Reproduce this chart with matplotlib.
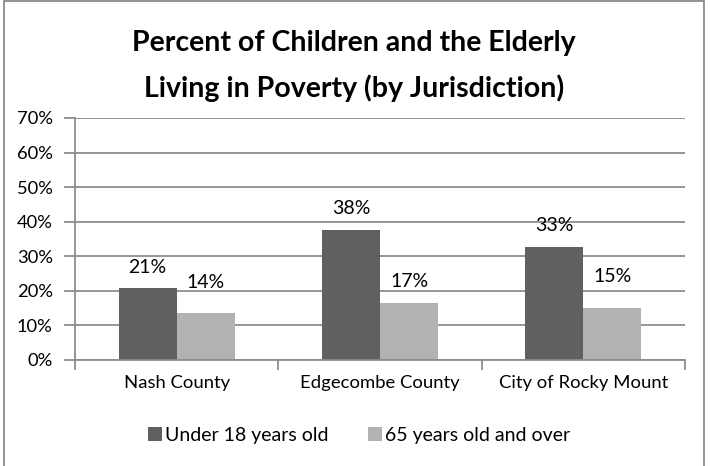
import numpy as np
import matplotlib
matplotlib.use("Agg")
import matplotlib.pyplot as plt
from matplotlib.patches import Rectangle

plt.rcParams['font.family'] = ['Lato', 'DejaVu Sans']

jurisdictions = ["Nash County", "Edgecombe County", "City of Rocky Mount"]
under18 = [20.7, 37.6, 32.7]
over65 = [13.7, 16.6, 15.1]
series_names = ["Under 18 years old", "65 years old and over"]
yticks = [0, 10, 20, 30, 40, 50, 60, 70]

dark = "#606060"
light = "#b2b2b2"
grid_c = "#8c8c8c"

fig = plt.figure(figsize=(7.1, 4.66), dpi=100)

# chart frame
fig.patches.append(Rectangle((4 / 710, -0.05), 700 / 710, 1.047,
                             transform=fig.transFigure, fill=False,
                             edgecolor="#808080", linewidth=1.2))

ax = fig.add_axes([75 / 710, 1 - 360 / 466, 610 / 710, 242 / 466])

x = np.arange(len(jurisdictions))
w = 0.286
b1 = ax.bar(x - w / 2, under18, w, color=dark)
b2 = ax.bar(x + w / 2, over65, w, color=light)

# value labels (Excel nudges some of them up to clear the neighbour)
lift1 = [21, 22, 21]
lift2 = [30, 21, 31]
for xi, v, d in zip(x, under18, lift1):
    ax.annotate(f"{v:.0f}%", (xi - w / 2, v), xytext=(0, d),
                textcoords="offset pixels", ha="center", va="center",
                fontsize=14)
for xi, v, d in zip(x, over65, lift2):
    ax.annotate(f"{v:.0f}%", (xi + w / 2, v), xytext=(0, d),
                textcoords="offset pixels", ha="center", va="center",
                fontsize=14)

ax.set_xlim(-0.5, 2.5)
ax.set_ylim(0, 70)
ax.set_yticks(yticks)
ax.set_yticklabels([f"{t}%" for t in yticks], fontsize=13.2)
ax.yaxis.grid(True, color=grid_c, linewidth=1.3)
ax.set_axisbelow(True)

ax.set_xticks(x)
ax.set_xticklabels(jurisdictions, fontsize=13.3)
ax.set_xticks([-0.5, 0.5, 1.5, 2.5], minor=True)
ax.tick_params(axis="x", which="major", length=0, pad=10.5)
ax.tick_params(axis="x", which="minor", length=7, color=grid_c, width=1.3)
ax.tick_params(axis="y", length=8, color=grid_c, width=1.3, pad=8)

for s in ["top", "right"]:
    ax.spines[s].set_visible(False)
ax.spines["left"].set_color(grid_c)
ax.spines["bottom"].set_color(grid_c)
ax.spines["left"].set_linewidth(1.3)
ax.spines["bottom"].set_linewidth(1.3)

fig.text(354 / 710, 1 - 66 / 466,
         "Percent of Children and the Elderly\nLiving in Poverty (by Jurisdiction)",
         ha="center", va="center", fontsize=20.5, fontweight="bold",
         linespacing=1.8)

fig.legend([b1, b2], series_names, loc="center",
           bbox_to_anchor=(359 / 710, 1 - 435 / 466), ncol=2, frameon=False,
           fontsize=14, handlelength=0.75, handleheight=0.75,
           handletextpad=0.15, columnspacing=2.0)

fig.savefig("out.png", dpi=100)
